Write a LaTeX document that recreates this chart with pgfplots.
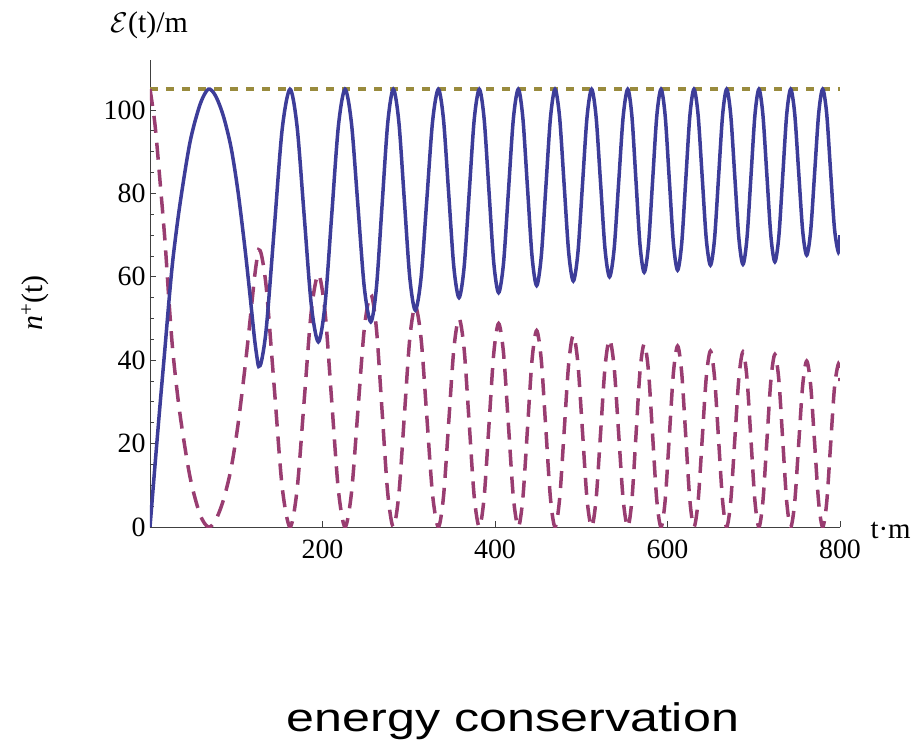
\documentclass[border=0pt]{standalone}
\usepackage{pgfplots}
\pgfplotsset{compat=1.18}
\usepackage{pgfplotstable}
\usepackage{fontspec}
\usepackage{graphicx}
\setmainfont{Liberation Serif}
\newfontfamily\arial{Liberation Sans}
\definecolor{mblue}{RGB}{61,61,153}
\definecolor{mpurple}{RGB}{153,61,113}
\definecolor{molive}{RGB}{153,139,61}

\pgfplotstableread{
t b d
0 0 105
5.8 14.8 96.5
11.6 29.2 83
17.4 43 68.5
22.4 55.2 53
27 65 41
34.8 77.5 27
46.4 92.3 12
58 101.3 3
67.6 105 0
76 103.4 1.6
85 98.6 6.4
94 91 14
102 80.5 24.5
110 67 38
116 55.5 49.5
121 45.5 59.5
123.7 41.2 63.8
126 38.5 66.5
129.5 40 65
135.1 48.2 56.8
144.15 71.75 33.25
153.2 95.3 9.7
162.3 105 0
170.5 96.1 8.9
178.75 74.7 30.3
187.0 53.3 51.7
195.2 44.4 60.6
202.9 53.3 51.7
210.65 74.7 30.3
218.4 96.1 8.9
226.1 105 0
233.6 96.8 8.2
241.05 77.1 27.9
248.5 57.4 47.6
256 49.2 55.8
262.5 57.4 47.6
269.05 77.1 27.9
275.6 96.8 8.2
282.1 105 0
288.5 97.2 7.8
294.85 78.5 26.5
301.2 59.8 45.2
307.6 52 53
314.3 59.8 45.2
320.95 78.5 26.5
327.6 97.2 7.8
334.3 105 0
340.3 97.7 7.3
346.3 80 25
352.3 62.3 42.7
358.3 55 50
364.2 62.3 42.7
370.05 80 25
375.9 97.7 7.3
381.8 105 0
387.4 97.9 7.1
393 80.6 24.4
398.6 63.3 41.7
404.2 56.2 48.8
409.9 63.3 41.7
415.6 80.6 24.4
421.3 97.9 7.1
427 105 0
432.3 98.1 6.9
437.65 81.45 23.55
443.0 64.8 40.2
448.3 57.9 47.1
453.6 64.8 40.2
458.95 81.45 23.55
464.3 98.1 6.9
469.6 105 0
474.9 98.3 6.7
480.2 82 23
485.5 65.7 39.3
490.8 59 46
496.1 65.7 39.3
501.4 82 23
506.7 98.3 6.7
512 105 0
517.2 98.4 6.6
522.4 82.5 22.5
527.6 66.6 38.4
532.8 60 45
538.1 66.6 38.4
543.35 82.5 22.5
548.6 98.4 6.6
553.9 105 0
558.7 98.6 6.4
563.45 83.05 21.95
568.2 67.5 37.5
573 61.1 43.9
577.9 67.5 37.5
582.75 83.05 21.95
587.6 98.6 6.4
592.5 105 0
597.3 98.65 6.35
602.1 83.3 21.7
606.9 67.95 37.05
611.7 61.6 43.4
616.45 67.95 37.05
621.2 83.3 21.7
625.95 98.65 6.35
630.7 105 0
635.5 98.8 6.2
640.25 83.9 21.1
645.0 69.0 36
649.8 62.8 42.2
654.5 69.0 36
659.2 83.9 21.1
663.9 98.8 6.2
668.6 105 0
673.3 98.85 6.15
678.05 84 21
682.8 69.15 35.85
687.5 63 42
692.1 69.15 35.85
696.75 84 21
701.4 98.85 6.15
706 105 0
710.6 98.9 6.1
715.25 84.3 20.7
719.9 69.7 35.3
724.5 63.6 41.4
729.1 69.7 35.3
733.65 84.3 20.7
738.2 98.9 6.1
742.8 105 0
747.45 99.2 5.8
752.1 85.1 19.9
756.75 71.0 34
761.4 65.2 39.8
766.0 71.0 34
770.65 85.1 19.9
775.3 99.2 5.8
779.9 105 0
784.5 99.3 5.7
789.05 85.45 19.55
793.6 71.6 33.4
798.2 65.9 39.1
800 70 35
}\data

\begin{document}
\begin{tikzpicture}
\useasboundingbox (-150bp,-217bp) rectangle (767bp,527bp);
\begin{axis}[
  at={(0,0)}, anchor=south west,
  scale only axis, width=690bp, height=467bp,
  xmin=0, xmax=800, ymin=0, ymax=112,
  axis lines=left,
  axis line style={-, draw=black!75, line width=0.9bp},
  xtick={200,400,600,800}, ytick={0,20,40,60,80,100},
  minor y tick num=3,
  tick align=inside,
  major tick length=6bp, minor tick length=4bp,
  every tick/.style={black!75, line width=0.9bp},
  ticklabel style={font=\fontsize{28}{28}\selectfont},
  /pgf/number format/assume math mode=true,
  xticklabel style={yshift=-9bp},
  yticklabel style={xshift=-1bp},
]
\addplot[molive, line width=4bp, dash pattern=on 8bp off 8bp] coordinates {(0,105.1) (800,105.1)};
\addplot[mpurple, line width=3.5bp, smooth, dash pattern=on 17bp off 10bp] table[x=t, y=d] {\data};
\addplot[mblue, line width=3.5bp, smooth] table[x=t, y=b] {\data};
\end{axis}
\node[anchor=base west, font=\fontsize{30}{30}\selectfont] at (-43bp,494bp) {\scalebox{1.15}{$\mathcal{E}$}(t)/m};
\node[rotate=90, font=\fontsize{30}{30}\selectfont] at (-115bp,224bp) {\textit{n}\textsuperscript{+}(t)};
\node[anchor=base west, font=\fontsize{29}{29}\selectfont] at (717bp,-11bp) {t·m};
\node[anchor=base] at (363bp,-204.7bp) {\arial\fontsize{40}{40}\selectfont\scalebox{1.26}[1]{energy conservation}};
\end{tikzpicture}
\end{document}
